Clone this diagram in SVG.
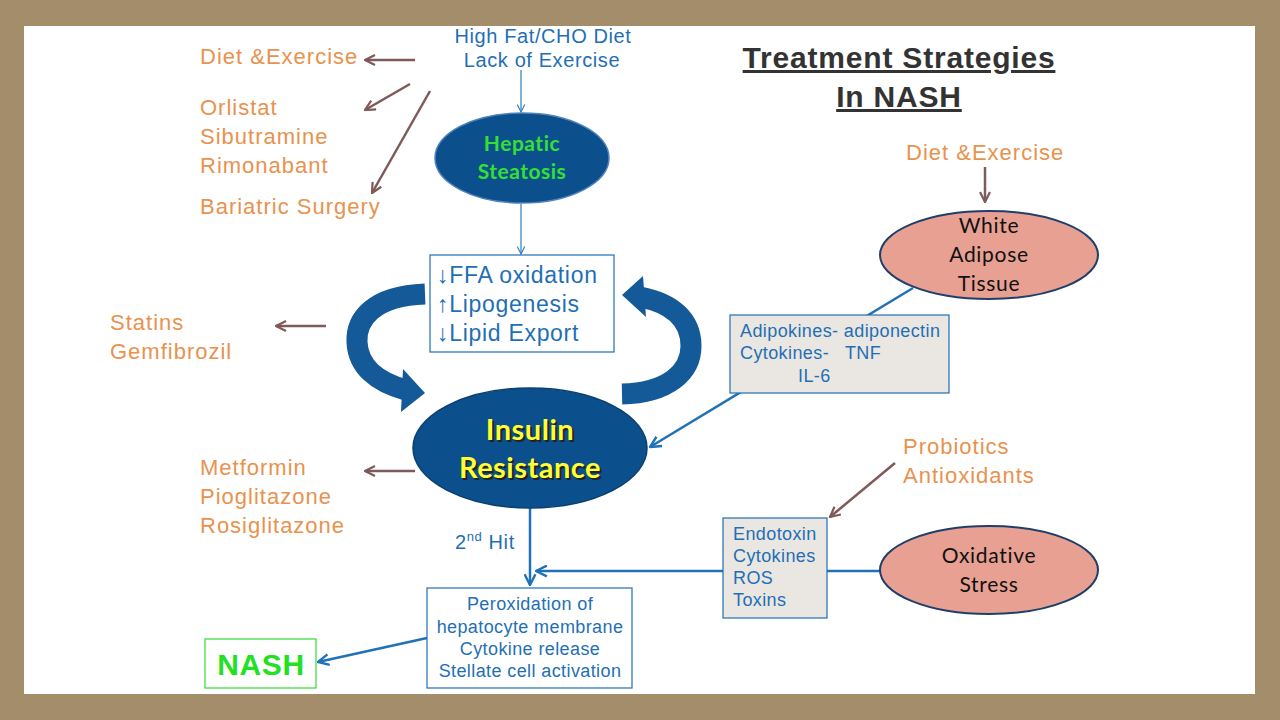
<svg xmlns="http://www.w3.org/2000/svg" width="1280" height="720" viewBox="0 0 1280 720">
<defs>
<style>
.or{font-family:"Liberation Sans",Arial,sans-serif;font-size:22px;letter-spacing:1px;fill:#E8924E}
.bl{font-family:"Liberation Sans",Arial,sans-serif;fill:#1F6FB5}
.s17{font-size:18px;letter-spacing:0.4px}
.cal{font-family:Lato,"Open Sans",sans-serif}
.br{stroke:#7F5A5A;stroke-width:2.5;fill:none}
.bc{stroke:#1F72B8;stroke-width:2.5;fill:none}
.bt{stroke:#2E7DC0;stroke-width:1.2;fill:none}
.band{stroke:#145A98;stroke-width:21;fill:none}
</style>
<marker id="ab" viewBox="0 0 12 12" refX="11" refY="6" markerWidth="12" markerHeight="12" markerUnits="userSpaceOnUse" orient="auto"><path d="M1,1 L11,6 L1,11" fill="none" stroke="#7F5A5A" stroke-width="2.2"/></marker>
<marker id="abl" viewBox="0 0 12 12" refX="11" refY="6" markerWidth="13" markerHeight="13" markerUnits="userSpaceOnUse" orient="auto"><path d="M1,1 L11,6 L1,11" fill="none" stroke="#1F72B8" stroke-width="2.2"/></marker>
<marker id="abt" viewBox="0 0 12 12" refX="11" refY="6" markerWidth="9" markerHeight="9" markerUnits="userSpaceOnUse" orient="auto"><path d="M1,1 L11,6 L1,11" fill="none" stroke="#2E7DC0" stroke-width="1.5"/></marker>
</defs>
<rect x="0" y="0" width="1280" height="720" fill="#A38D6B"/>
<rect x="24" y="26" width="1231" height="668" fill="#FFFFFF"/>

<g id="title" font-family="'Liberation Sans',Arial,sans-serif" font-weight="bold" font-size="30" letter-spacing="0.8" fill="#333333" text-anchor="middle" text-decoration="underline">
<text x="899" y="68">Treatment Strategies</text>
<text x="899" y="107">In NASH</text>
</g>

<g id="connectors">
<line class="br" x1="415" y1="60" x2="365" y2="60" marker-end="url(#ab)"/>
<line class="br" x1="410" y1="84" x2="365" y2="110" marker-end="url(#ab)"/>
<line class="br" x1="430" y1="91" x2="372" y2="193" marker-end="url(#ab)"/>
<line class="br" x1="326" y1="326" x2="276" y2="326" marker-end="url(#ab)"/>
<line class="br" x1="415" y1="471" x2="365" y2="471" marker-end="url(#ab)"/>
<line class="br" x1="985" y1="167" x2="985" y2="202" marker-end="url(#ab)"/>
<line class="br" x1="895" y1="463" x2="830" y2="517" marker-end="url(#ab)"/>
<line class="bt" x1="521" y1="70" x2="521" y2="112" marker-end="url(#abt)"/>
<line class="bt" x1="521" y1="204" x2="521" y2="254" marker-end="url(#abt)"/>
<line class="bc" x1="913" y1="288" x2="650" y2="447" marker-end="url(#abl)"/>
<line class="bc" x1="530" y1="508" x2="530" y2="585" marker-end="url(#abl)"/>
<line class="bc" x1="880" y1="571" x2="536" y2="571" marker-end="url(#abl)"/>
<line class="bc" x1="427" y1="638" x2="318" y2="662" marker-end="url(#abl)"/>
<path class="band" d="M425,294 C372,296 356,320 357,342 C358,366 376,382 406,390"/>
<polygon points="403,369 425,393 401,412" fill="#145A98"/>
<path class="band" d="M622,394 C668,393 691,372 691,346 C691,320 672,303 640,297"/>
<polygon points="643,276 622,295 646,317" fill="#145A98"/>
</g>

<g id="left-treatments" class="or">
<text x="200" y="64" class="or">Diet &amp;Exercise</text>
<text x="200" y="115" class="or">Orlistat</text>
<text x="200" y="144" class="or">Sibutramine</text>
<text x="200" y="173" class="or">Rimonabant</text>
<text x="200" y="214" class="or">Bariatric Surgery</text>
<text x="110" y="330" class="or">Statins</text>
<text x="110" y="359" class="or">Gemfibrozil</text>
<text x="200" y="475" class="or">Metformin</text>
<text x="200" y="504" class="or">Pioglitazone</text>
<text x="200" y="533" class="or">Rosiglitazone</text>
</g>

<g id="diet-cause" class="bl" font-size="20" letter-spacing="0.6" text-anchor="middle">
<text x="543" y="43">High Fat/CHO Diet</text>
<text x="542" y="67">Lack of Exercise</text>
</g>

<g id="hepatic-steatosis">
<ellipse cx="522" cy="158" rx="87" ry="45" fill="#0B4F8C" stroke="#4F81BD" stroke-width="1.5"/>
<g class="cal" font-size="21" letter-spacing="0.5" font-weight="bold" fill="#33E033" text-anchor="middle">
<text x="522" y="151">Hepatic</text>
<text x="522" y="179">Steatosis</text>
</g>
</g>

<g id="lipid-box">
<rect x="430" y="255" width="184" height="97" fill="#FFFFFF" stroke="#1F6FB5" stroke-width="1.2"/>
<g class="bl" font-size="23" letter-spacing="0.7">
<text x="437" y="283">↓FFA oxidation</text>
<text x="437" y="312">↑Lipogenesis</text>
<text x="437" y="341">↓Lipid Export</text>
</g>
</g>

<g id="insulin-resistance">
<ellipse cx="530" cy="448" rx="117" ry="60" fill="#0B4F8C" stroke="#0A3F70" stroke-width="1.5"/>
<g class="cal" font-size="29" letter-spacing="0.5" font-weight="bold" text-anchor="middle">
<text x="532" y="442" fill="#222222">Insulin</text>
<text x="532" y="480" fill="#222222">Resistance</text>
<text x="530" y="440" fill="#FFFF33">Insulin</text>
<text x="530" y="478" fill="#FFFF33">Resistance</text>
</g>
</g>

<g id="second-hit">
<text class="bl" x="455" y="549" font-size="20" letter-spacing="0.6">2<tspan font-size="13" dy="-8">nd</tspan><tspan dy="8"> Hit</tspan></text>
</g>

<g id="white-adipose">
<text class="or" x="906" y="160">Diet &amp;Exercise</text>
<ellipse cx="989" cy="255" rx="109" ry="44" fill="#E8A092" stroke="#1F3F6A" stroke-width="2"/>
<g class="cal" font-size="21" letter-spacing="0.7" fill="#111111" text-anchor="middle">
<text x="989" y="233">White</text>
<text x="989" y="262">Adipose</text>
<text x="989" y="291">Tissue</text>
</g>
</g>

<g id="adipokines-box">
<rect x="730" y="315" width="219" height="78" fill="#EAE6E1" stroke="#1F6FB5" stroke-width="1.2"/>
<g class="bl s17">
<text x="740" y="337">Adipokines- adiponectin</text>
<text x="740" y="359" xml:space="preserve">Cytokines-   TNF</text>
<text x="798" y="382">IL-6</text>
</g>
</g>

<g id="probiotics" class="or">
<text x="903" y="454" class="or">Probiotics</text>
<text x="903" y="483" class="or">Antioxidants</text>
</g>

<g id="endotoxin-box">
<rect x="723" y="518" width="104" height="100" fill="#EAE6E1" stroke="#1F6FB5" stroke-width="1.2"/>
<g class="bl s17">
<text x="733" y="540">Endotoxin</text>
<text x="733" y="562">Cytokines</text>
<text x="733" y="584">ROS</text>
<text x="733" y="606">Toxins</text>
</g>
</g>

<g id="oxidative-stress">
<ellipse cx="989" cy="570" rx="109" ry="44" fill="#E8A092" stroke="#1F3F6A" stroke-width="2"/>
<g class="cal" font-size="21" letter-spacing="0.7" fill="#111111" text-anchor="middle">
<text x="989" y="563">Oxidative</text>
<text x="989" y="592">Stress</text>
</g>
</g>

<g id="peroxidation-box">
<rect x="427" y="588" width="205" height="100" fill="#FFFFFF" stroke="#1F6FB5" stroke-width="1.2"/>
<g class="bl s17" text-anchor="middle">
<text x="530" y="610">Peroxidation of</text>
<text x="530" y="633">hepatocyte membrane</text>
<text x="530" y="655">Cytokine release</text>
<text x="530" y="677">Stellate cell activation</text>
</g>
</g>

<g id="nash">
<rect x="205" y="639" width="111" height="49" fill="#FFFFFF" stroke="#33DD33" stroke-width="1.2"/>
<text x="261" y="675" font-family="'Liberation Sans',Arial,sans-serif" font-size="30" letter-spacing="0.6" font-weight="bold" fill="#22E022" text-anchor="middle">NASH</text>
</g>
</svg>
